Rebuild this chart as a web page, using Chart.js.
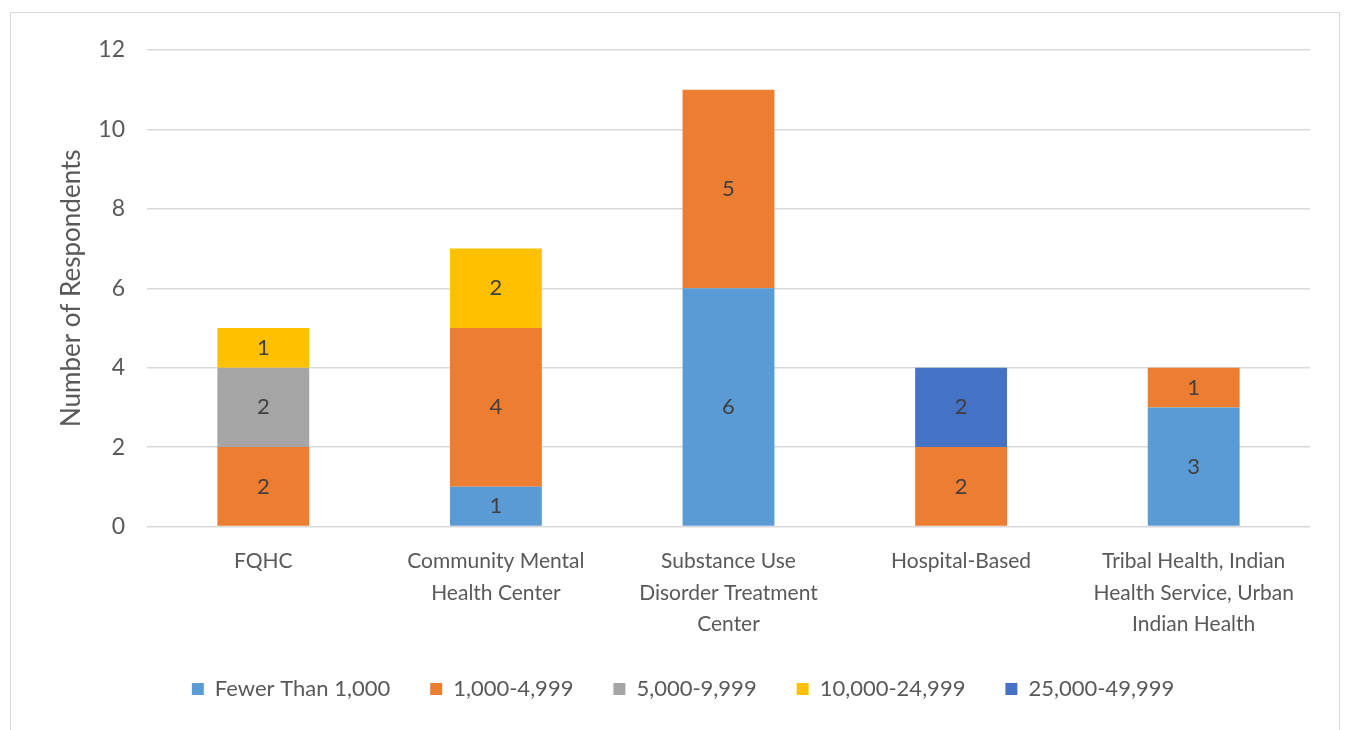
<!DOCTYPE html>
<html>
<head>
<meta charset="utf-8">
<script src="https://cdn.jsdelivr.net/npm/chart.js@4.4.1/dist/chart.umd.min.js"></script>
<style>
  html, body { margin: 0; padding: 0; background: #fff; }
  #wrap {
    position: absolute; left: 10px; top: 12px;
    width: 1330px; height: 730px;
    border: 1px solid #d9d9d9; box-sizing: border-box;
  }
  #box { position: absolute; left: 0; top: 0; width: 1345px; height: 730px; }
</style>
</head>
<body>
<div id="wrap"></div>
<div id="box"><canvas id="myChart"></canvas></div>
<script>
// categories along the x axis (multi-line labels)
const categories = [
  ['FQHC'],
  ['Community Mental', 'Health Center'],
  ['Substance Use', 'Disorder Treatment', 'Center'],
  ['Hospital-Based'],
  ['Tribal Health, Indian', 'Health Service, Urban', 'Indian Health']
];

// one array per size group, null where the bar has no segment
const fewerThan1000 = [null, 1, 6, null, 3];
const from1000 = [2, 4, 5, 2, 1];
const from5000 = [2, null, null, null, null];
const from10000 = [1, 2, null, null, null];
const from25000 = [null, null, null, 2, null];

const seriesNames = ['Fewer Than 1,000', '1,000-4,999', '5,000-9,999', '10,000-24,999', '25,000-49,999'];
const seriesColors = ['#5B9BD5', '#ED7D31', '#A5A5A5', '#FFC000', '#4472C4'];

const yTicks = [0, 2, 4, 6, 8, 10, 12];

const textColor = '#595959';
const fontFamily = 'Lato, "Open Sans", sans-serif';

// draws the value in the middle of each segment (no datalabels plugin available)
const valueLabels = {
  id: 'valueLabels',
  afterDatasetsDraw(chart) {
    const ctx = chart.ctx;
    ctx.save();
    ctx.font = '22px ' + fontFamily;
    ctx.fillStyle = '#404040';
    ctx.textAlign = 'center';
    ctx.textBaseline = 'middle';
    chart.data.datasets.forEach((ds, i) => {
      const meta = chart.getDatasetMeta(i);
      meta.data.forEach((bar, j) => {
        const v = ds.data[j];
        if (v === null || v === undefined) return;
        const mid = (bar.y + bar.base) / 2;
        ctx.fillText(String(v), bar.x, mid);
      });
    });
    ctx.restore();
  }
};

const allSeries = [fewerThan1000, from1000, from5000, from10000, from25000];

new Chart(document.getElementById('myChart'), {
  type: 'bar',
  data: {
    labels: categories,
    datasets: allSeries.map((d, i) => ({
      label: seriesNames[i],
      data: d,
      backgroundColor: seriesColors[i],
      borderWidth: 0,
      barPercentage: 0.395,
      categoryPercentage: 1.0
    }))
  },
  options: {
    responsive: true,
    maintainAspectRatio: false,
    animation: false,
    layout: { padding: { left: 56, right: 35, top: 50, bottom: 20 } },
    plugins: {
      legend: {
        position: 'bottom',
        labels: {
          color: textColor,
          font: { family: fontFamily, size: 22 },
          boxWidth: 12,
          boxHeight: 12,
          padding: 40
        }
      },
      tooltip: { enabled: false }
    },
    scales: {
      x: {
        stacked: true,
        grid: { display: false },
        border: { display: false },
        // labels may run a little into the legend's empty top space
        afterFit: (scale) => { scale.height -= 13; },
        ticks: {
          color: textColor,
          font: { family: fontFamily, size: 21, lineHeight: 1.5 },
          maxRotation: 0,
          autoSkip: false,
          padding: 11
        }
      },
      y: {
        stacked: true,
        min: 0,
        max: 12,
        afterBuildTicks: (axis) => { axis.ticks = yTicks.map(v => ({ value: v })); },
        afterFit: (scale) => { scale.width = 91; },
        grid: { color: '#d9d9d9', lineWidth: 1.5, drawTicks: false },
        border: { display: false },
        ticks: {
          color: textColor,
          font: { family: fontFamily, size: 23 },
          padding: 22
        },
        title: {
          display: true,
          text: 'Number of Respondents',
          color: textColor,
          font: { family: fontFamily, size: 26 },
          padding: { top: 0, bottom: 11 }
        }
      }
    }
  },
  plugins: [valueLabels]
});
</script>
</body>
</html>
